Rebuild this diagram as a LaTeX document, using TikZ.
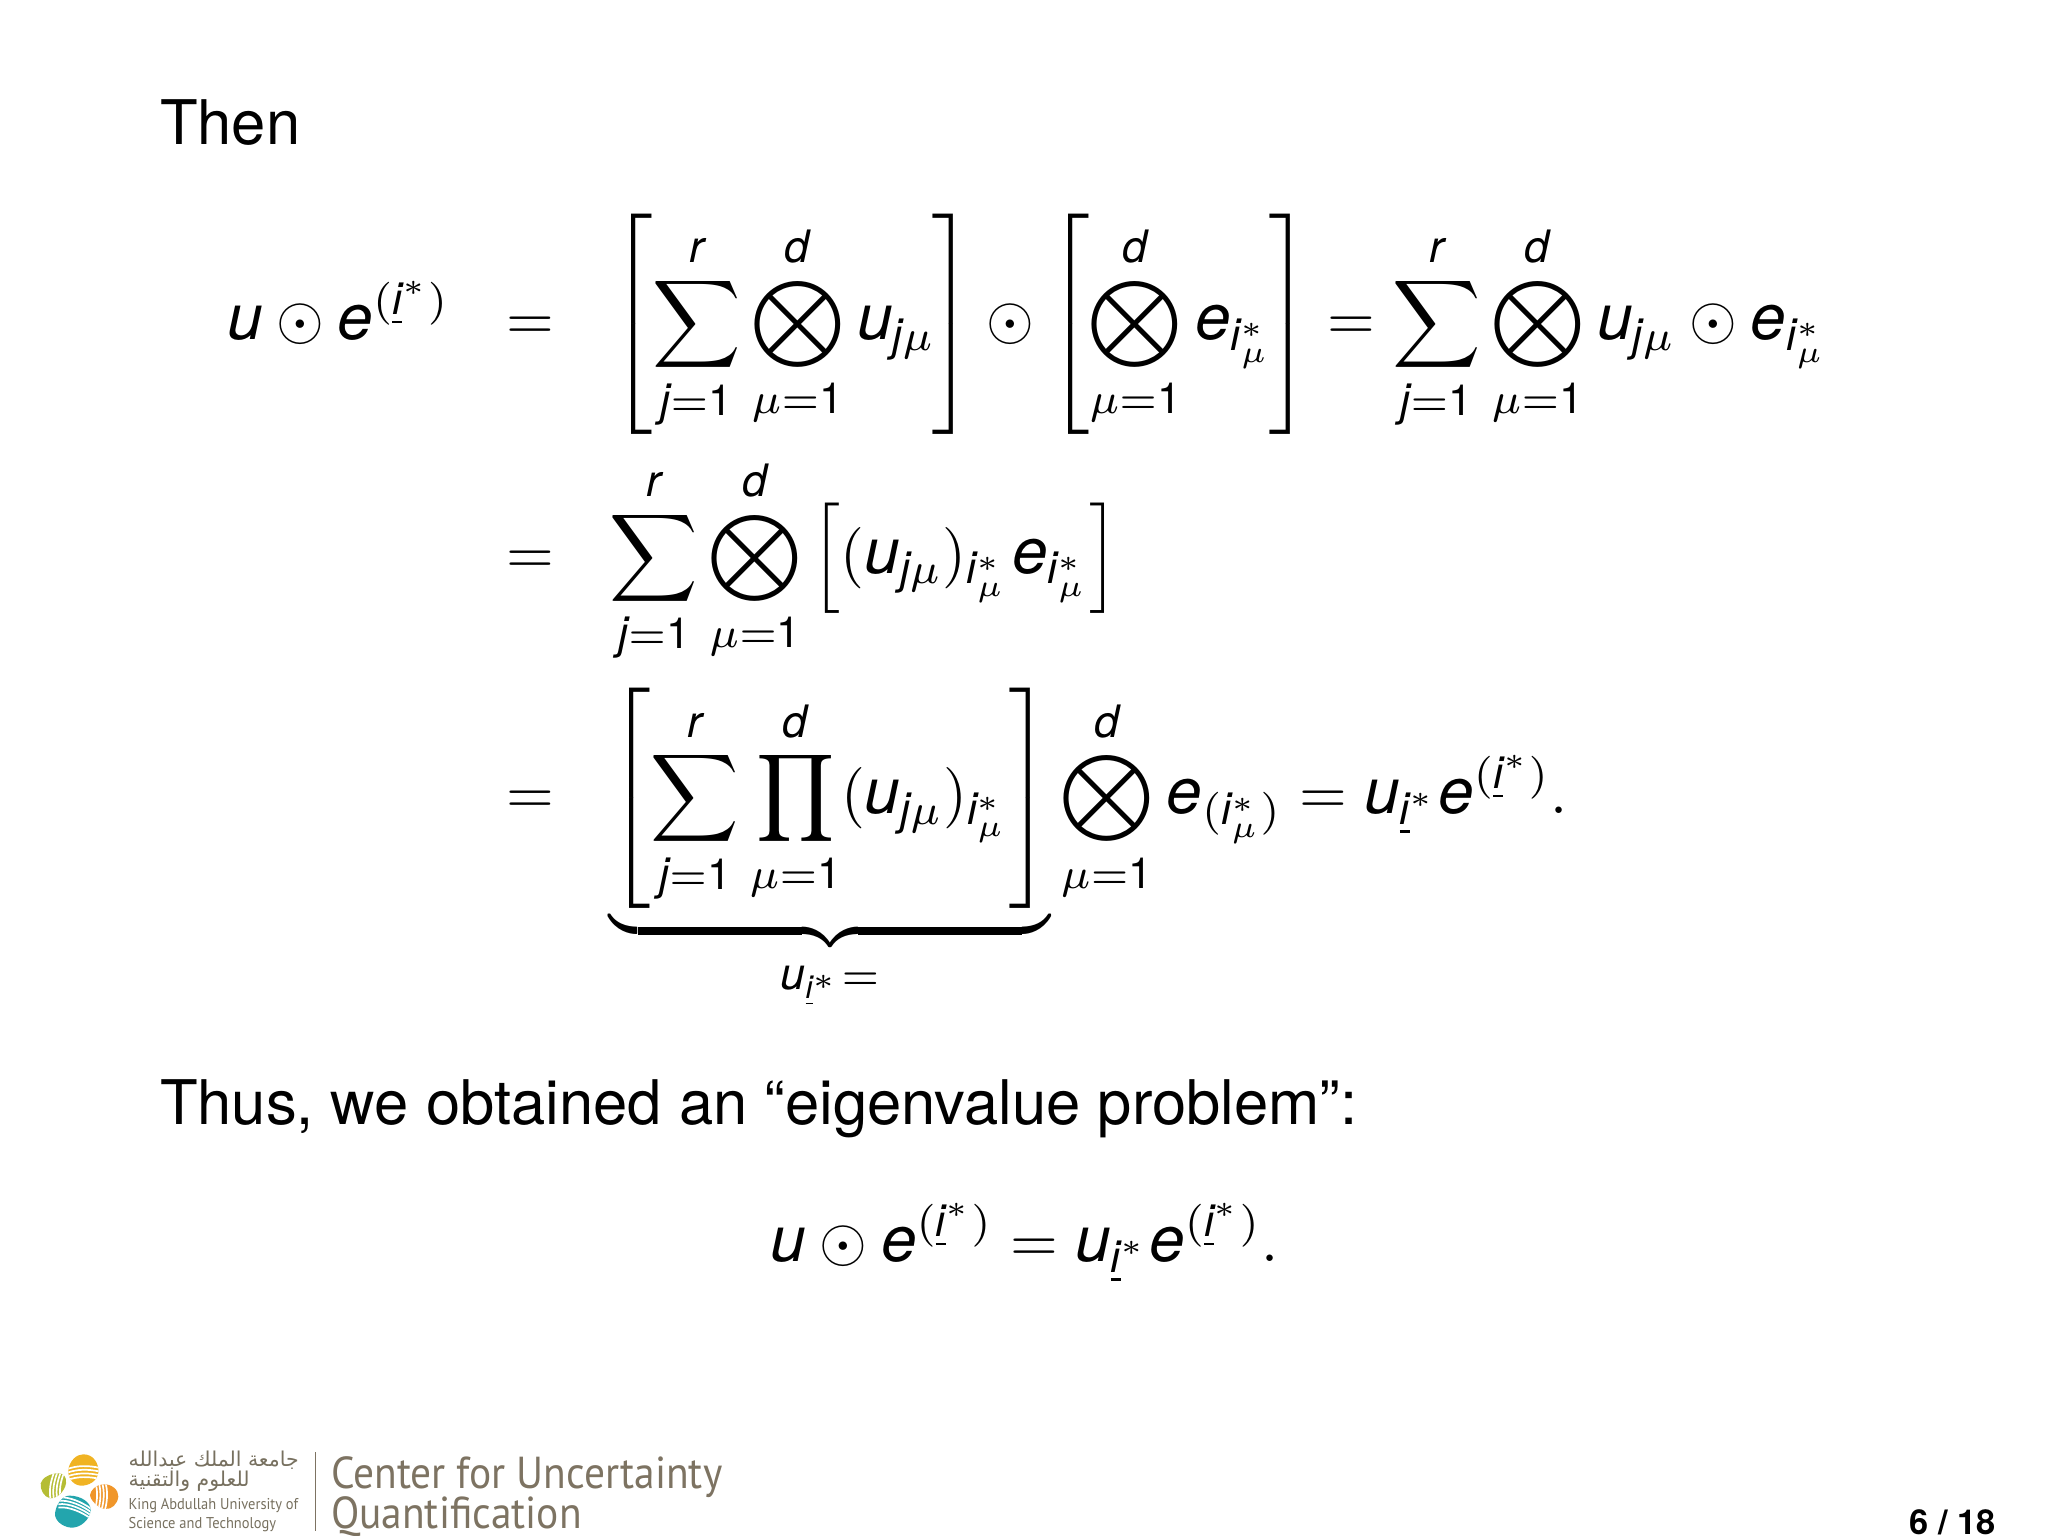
\documentclass[tikz,border=0pt]{standalone}
\usepackage{amsmath}
\usepackage{fontspec}
\setmainfont{TeX Gyre Heros}
\TeXXeTstate=1
\newfontfamily\arabicfont[Script=Arabic]{DejaVu Sans}
\newfontfamily\cuqfont[FakeStretch=0.925]{PT Sans}
\newfontfamily\heromathf[Scale=1.04]{TeX Gyre Heros}
\makeatletter
\begingroup\heromathf\xdef\hmfam{\f@family}\endgroup
\makeatother
\DeclareSymbolFont{heroit}{TU}{\hmfam}{m}{it}
\DeclareMathSymbol{u}{\mathalpha}{heroit}{`u}
\DeclareMathSymbol{e}{\mathalpha}{heroit}{`e}
\DeclareMathSymbol{i}{\mathalpha}{heroit}{`i}
\DeclareMathSymbol{j}{\mathalpha}{heroit}{`j}
\DeclareMathSymbol{r}{\mathalpha}{heroit}{`r}
\DeclareMathSymbol{d}{\mathalpha}{heroit}{`d}
\newcommand{\one}{\text{1}}
\newcommand{\istar}{\underline{i}^*}
\newcommand{\eistar}{e^{(\istar)}}
\newcommand{\imus}{i_\mu^*}
\newcommand{\jsum}{\sum_{j=\one}^{r}}
\newcommand{\mubig}{\bigotimes_{\mu=\one}^{d}}
\newcommand{\kernup}{\mskip1mu}
\definecolor{cuqbrown}{HTML}{7D7362}
\definecolor{kaustgrey}{HTML}{77705F}
\definecolor{eggyellow}{HTML}{F0B323}
\definecolor{egggreen}{HTML}{B5BD35}
\definecolor{eggorange}{HTML}{F0962A}
\definecolor{eggteal}{HTML}{23A5AD}
\newcommand{\eggY}{(160,28) .. controls (190,28) and (207,55) .. (205,82) .. controls (203,108) and (175,124) .. (150,122) .. controls (125,118) and (112,95) .. (115,72) .. controls (120,48) and (138,28) .. (160,28) -- cycle}
\newcommand{\eggG}{(85,85) .. controls (100,85) and (110,95) .. (108,115) .. controls (104,140) and (80,162) .. (60,160) .. controls (42,156) and (30,135) .. (32,115) .. controls (36,98) and (62,85) .. (85,85) -- cycle}
\newcommand{\eggO}{(218,118) .. controls (245,116) and (266,135) .. (265,155) .. controls (262,178) and (245,194) .. (225,192) .. controls (205,190) and (180,165) .. (180,150) .. controls (182,135) and (198,120) .. (218,118) -- cycle}
\newcommand{\eggT}{(118,152) .. controls (150,152) and (182,170) .. (182,195) .. controls (180,225) and (150,250) .. (122,248) .. controls (95,245) and (73,225) .. (75,205) .. controls (78,180) and (95,152) .. (118,152) -- cycle}
\tikzset{
 txt/.style={anchor=base west,inner sep=0pt,outer sep=0pt},
 body/.style={txt,font=\fontsize{10.03}{12}\selectfont},
 eqn/.style={txt},
 stripe/.style={white,line width=0.28pt},
 arabictxt/.style={txt,text=kaustgrey,font=\arabicfont\fontsize{3.33}{4}\selectfont},
 kausttxt/.style={txt,text=kaustgrey,font=\cuqfont\fontsize{2.55}{3}\selectfont},
 cuqtxt/.style={txt,text=cuqbrown,font=\cuqfont\fontsize{7.3}{8}\selectfont},
}
\begin{document}
\begin{tikzpicture}[x=0.2129pt,y=-0.2129pt]
\useasboundingbox (0,0) rectangle (1568,1176);
\node[body] (then) at (122.5,111) {Then};
\node[eqn] (l1a) at (174,260) {$\displaystyle u\odot \eistar$};
\node[eqn] (eq1) at (388,260) {$=$};
\node[eqn] (l1b) at (468,260) {$\displaystyle \left[\jsum\mubig\kernup u_{j\mu}\mskip-1mu\right]\odot\left[\vphantom{\jsum}\mskip-\thinmuskip\mubig\kernup e_{\imus}\mskip-1mu\right]=\jsum\mubig\kernup u_{j\mu}\odot e_{\imus}$};
\node[eqn] (eq2) at (388,439) {$=$};
\node[eqn] (l2) at (467,439) {$\displaystyle \jsum\mubig\left[(u_{j\mu})_{\imus}\kernup e_{\imus}\right]$};
\node[eqn] (eq3) at (388,623) {$=$};
\node[eqn] (l3) at (467,623) {$\displaystyle \underbrace{\left[\jsum\prod_{\mu=\one}^{d}(u_{j\mu})_{\imus}\right]}_{u_{\underline{i}^*}=}\mubig\kernup e_{(\imus)}=u_{\underline{i}^*}\eistar.$};
\node[body] (thus) at (122.5,861) {Thus, we obtained an “eigenvalue problem”:};
\node[eqn] (l4) at (590,966) {$\displaystyle u\odot\eistar=u_{\underline{i}^*}\eistar.$};
\node[txt,font=\bfseries\fontsize{5.6}{7}\selectfont] (page) at (1462,1175) {6 / 18};
% logo
\begin{scope}[shift={(23,1106.3)},scale=.2552]
 \begin{scope}\clip \eggY; \fill[eggyellow] (100,20) rectangle (215,130);
  \foreach \y in {73,84,95,106}{\draw[stripe] (110,\y) .. controls (140,\y-12) and (175,\y-12) .. (210,\y-4);}
 \end{scope}
 \begin{scope}\clip \eggG; \fill[egggreen] (25,80) rectangle (115,165);
  \foreach \x in {62,72,82,92}{\draw[stripe] (\x,165) .. controls (\x-6,135) and (\x,110) .. (\x+10,82);}
 \end{scope}
 \begin{scope}\clip \eggO; \fill[eggorange] (175,112) rectangle (270,197);
  \foreach \x in {196,206,216,226}{\draw[stripe] (\x,112) .. controls (\x+8,140) and (\x+6,170) .. (\x-2,197);}
 \end{scope}
 \begin{scope}\clip \eggT; \fill[eggteal] (70,148) rectangle (188,252);
  \foreach \y in {158,168,178,188}{\draw[stripe] (85,\y) .. controls (115,\y-5) and (160,\y+15) .. (185,\y+35);}
 \end{scope}
\end{scope}
\node[arabictxt] (ar1) at (98.5,1123) {\beginR جامعة الملك عبدالله\endR};
\node[arabictxt] (ar2) at (98.5,1138) {\beginR للعلوم والتقنية\endR};
\node[kausttxt] (k1) at (98.5,1156) {King Abdullah University of};
\node[kausttxt] (k2) at (98.5,1170) {Science and Technology};
\draw[cuqbrown,line width=0.2pt] (241.5,1112) -- (241.5,1172);
\node[cuqtxt] (c1) at (253.5,1140) {Center for Uncertainty};
\node[cuqtxt] (c2) at (253.5,1170) {Quantification};
\end{tikzpicture}
\end{document}
